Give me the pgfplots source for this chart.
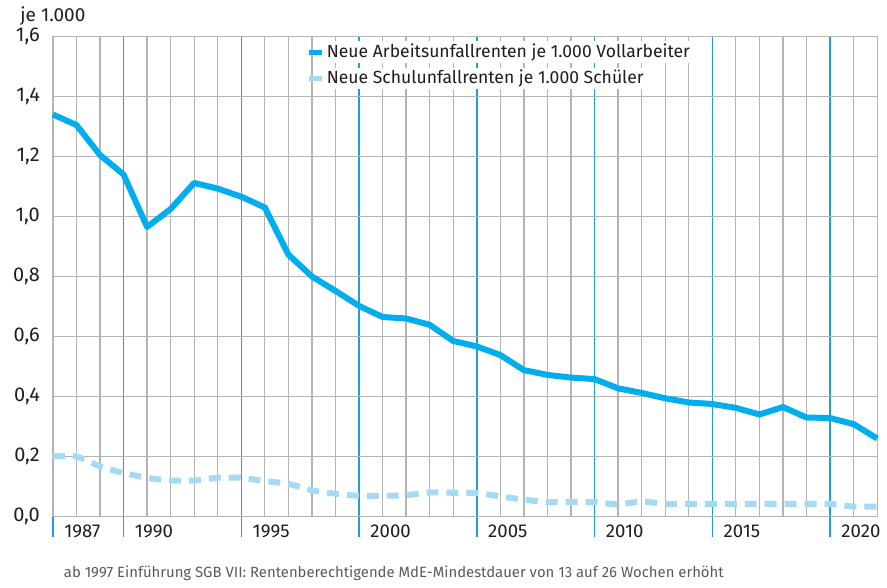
\documentclass[border=0pt]{standalone}
\usepackage{fontspec}
\setmainfont{Fira Sans}
\usepackage{pgfplots}
\pgfplotsset{compat=1.18}
\definecolor{mainblue}{RGB}{0,174,239}
\definecolor{lightblue}{RGB}{165,218,245}
\definecolor{gridblue}{RGB}{30,160,215}
\definecolor{gridgray}{RGB}{180,180,180}
\definecolor{txt}{RGB}{30,30,30}
\definecolor{notegray}{RGB}{90,90,90}

\begin{document}
\begin{tikzpicture}[font=\fontsize{8.8}{10.5}\selectfont, text=txt]
\begin{axis}[
    scale only axis,
    width=413pt, height=240.5pt,
    xmin=1987, xmax=2022,
    ymin=0, ymax=1.6,
    xtick={1987,1990,1995,2000,2005,2010,2015,2020},
    minor xtick={1988,1989,1991,1992,1993,1994,1996,1997,1998,1999,2001,2002,2003,2004,2006,2007,2008,2009,2011,2012,2013,2014,2016,2017,2018,2019,2021,2022},
    ytick={0,0.2,0.4,0.6,0.8,1.0,1.2,1.4,1.6},
    xtick pos=left, ytick pos=left,
    xtick align=outside,
    major tick length=10.5pt,
    minor tick length=0pt,
    xtick style={color=gridblue, line width=0.75pt},
    ytick style={draw=none},
    grid=both,
    major x grid style={color=gridblue, line width=0.75pt},
    minor x grid style={color=gridgray, line width=0.65pt},
    major y grid style={color=gridgray, line width=0.65pt},
    axis line style={color=gridgray, line width=0.65pt},
    xticklabel style={anchor=north west, xshift=2.2pt, yshift=10pt,
        /pgf/number format/1000 sep={}, /pgf/number format/assume math mode=true,
        font=\fontsize{9.3}{11}\selectfont},
    yticklabel style={/pgf/number format/fixed, /pgf/number format/fixed zerofill,
        /pgf/number format/precision=1, /pgf/number format/use comma,
        /pgf/number format/assume math mode=true,
        xshift=-3pt, font=\fontsize{10}{12}\selectfont},
    legend style={at={(0.300,0.999)}, anchor=north west, draw=none, fill=none,
        nodes={fill=white, inner sep=1.2pt, anchor=west}, row sep=2.5pt,
        font=\fontsize{8.8}{10.5}\selectfont},
    legend cell align=left,
    clip=false,
]
\addplot[mainblue, line width=3pt, line join=round,
    legend image code/.code={\draw[mainblue, line width=2.5pt] (0pt,0pt) -- (6.5pt,0pt);}]
coordinates {
(1987,1.340) (1988,1.305) (1989,1.205) (1990,1.140) (1991,0.965) (1992,1.025)
(1993,1.112) (1994,1.093) (1995,1.066) (1996,1.030) (1997,0.873) (1998,0.800)
(1999,0.752) (2000,0.702) (2001,0.665) (2002,0.660) (2003,0.639) (2004,0.585)
(2005,0.567) (2006,0.538) (2007,0.488) (2008,0.472) (2009,0.463) (2010,0.458)
(2011,0.427) (2012,0.412) (2013,0.394) (2014,0.380) (2015,0.375) (2016,0.362)
(2017,0.340) (2018,0.365) (2019,0.330) (2020,0.328) (2021,0.308) (2022,0.260)
};
\addlegendentry{Neue Arbeitsunfallrenten je 1.000 Vollarbeiter}

\addplot[lightblue, line width=3pt, dash pattern=on 6pt off 4pt, smooth, tension=0.4,
    legend image code/.code={\draw[lightblue, solid, line width=2.5pt] (0pt,0pt) -- (6.5pt,0pt);}]
coordinates {
(1987,0.200) (1988,0.200) (1989,0.167) (1990,0.145) (1991,0.129) (1992,0.120)
(1993,0.120) (1994,0.129) (1995,0.129) (1996,0.118) (1997,0.109) (1998,0.087)
(1999,0.076) (2000,0.069) (2001,0.069) (2002,0.071) (2003,0.080) (2004,0.079)
(2005,0.078) (2006,0.067) (2007,0.056) (2008,0.048) (2009,0.048) (2010,0.048)
(2011,0.040) (2012,0.050) (2013,0.042) (2014,0.042) (2015,0.042) (2016,0.042)
(2017,0.042) (2018,0.042) (2019,0.042) (2020,0.042) (2021,0.033) (2022,0.033)
};
\addlegendentry{Neue Schulunfallrenten je 1.000 Schüler}

\node[anchor=south, yshift=2pt, font=\fontsize{9.5}{11}\selectfont] at (rel axis cs:0,1) {je 1.000};
\node[anchor=base west, xshift=2pt, yshift=-30.5pt, text=notegray, font=\fontsize{7.45}{9}\selectfont]
    at (rel axis cs:0,0) {ab 1997 Einführung SGB VII: Rentenberechtigende MdE-Mindestdauer von 13 auf 26 Wochen erhöht};
\coordinate (o) at (rel axis cs:0,0);
\coordinate (t) at (rel axis cs:1,1);
\end{axis}
\path ([xshift=-26.5pt, yshift=-34.5pt]o) rectangle ([xshift=4pt, yshift=17.5pt]t);
\end{tikzpicture}
\end{document}
